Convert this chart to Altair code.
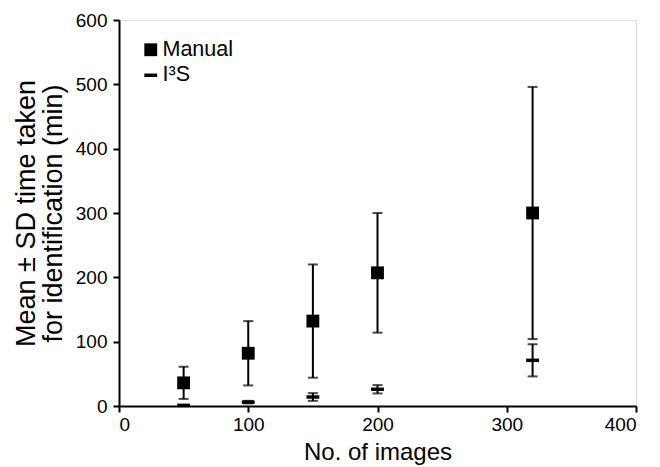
import altair as alt
import pandas as pd

images = [50, 100, 150, 200, 320]
manual_mean = [36, 82, 132, 207, 300]
manual_sd = [25, 50, 88, 93, 196]
i3s_mean = [1, 6, 14, 26, 71]
i3s_sd = [0.6, 2, 6, 6.5, 25]
series = ["Manual", "I³S"]

rows = []
for x, m, s in zip(images, manual_mean, manual_sd):
    rows.append({"images": x, "mean": m, "lo": m - s, "hi": m + s, "series": series[0]})
for x, m, s in zip(images, i3s_mean, i3s_sd):
    rows.append({"images": x, "mean": m, "lo": m - s, "hi": m + s, "series": series[1]})
df = pd.DataFrame(rows)

FONT = "Liberation Sans"
xs = alt.Scale(domain=[0, 400], nice=False)
ys = alt.Scale(domain=[0, 600], nice=False)

common = dict(grid=False, labelFontSize=19, titleFontWeight="normal",
              labelFont=FONT, titleFont=FONT, tickSize=6, tickWidth=2, domainWidth=2,
              domainColor="black", tickColor="black", labelColor="black", titleColor="black")
xax = alt.Axis(values=[0, 100, 200, 300, 400], title="No. of images", titleFontSize=24,
               labelPadding=3, titlePadding=6, **common)
yax = alt.Axis(values=[0, 100, 200, 300, 400, 500, 600],
               title=["Mean ± SD time taken", "for identification (min)"], titleFontSize=27,
               titleLineHeight=27, labelPadding=6, titlePadding=8, **common)

base = alt.Chart(df)

rules = base.mark_rule(color="black", strokeWidth=2).encode(
    x=alt.X("images:Q", scale=xs, axis=xax),
    y=alt.Y("lo:Q", scale=ys, axis=yax),
    y2="hi:Q",
)
cap_lo = base.mark_tick(color="black", orient="horizontal", size=10, thickness=2).encode(
    x=alt.X("images:Q", scale=xs), y=alt.Y("lo:Q", scale=ys))
cap_hi = base.mark_tick(color="black", orient="horizontal", size=10, thickness=2).encode(
    x=alt.X("images:Q", scale=xs), y=alt.Y("hi:Q", scale=ys))

points = base.mark_point(filled=True, color="black", opacity=1, size=165).encode(
    x=alt.X("images:Q", scale=xs),
    y=alt.Y("mean:Q", scale=ys),
    shape=alt.Shape("series:N",
                    scale=alt.Scale(domain=series, range=["square", "M-1,-0.27H1V0.27H-1Z"]),
                    legend=alt.Legend(title=None, orient="none", legendX=21, legendY=19,
                                      labelFontSize=21.5, labelFont=FONT, labelColor="black",
                                      symbolFillColor="black", symbolStrokeColor="black",
                                      symbolSize=165, rowPadding=2.5, labelOffset=1)),
)

chart = (rules + cap_lo + cap_hi + points).properties(
    width=517, height=386,
    autosize="none",
    padding={"left": 111, "top": 12, "right": 16, "bottom": 61},
).configure_view(stroke="black", strokeWidth=2).configure(background="white")

chart.save("out.html", embed_options={"renderer": "svg", "actions": False})
